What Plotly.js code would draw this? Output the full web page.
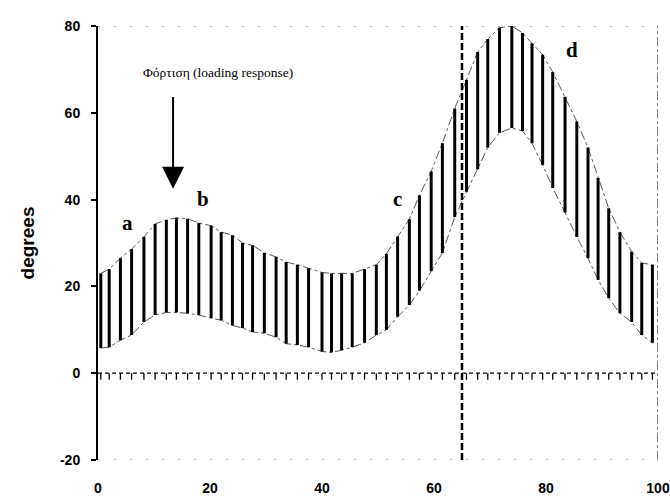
<!DOCTYPE html>
<html>
<head>
<meta charset="utf-8">
<script src="https://cdn.plot.ly/plotly-3.0.1.min.js"></script>
<style>html,body{margin:0;padding:0;background:#fff;}#chart{width:670px;height:497px;}</style>
</head>
<body>
<div id="chart"></div>
<script>
// Percent of gait cycle at each hatch line
const xs = [0.5, 2, 4, 6, 8.2, 10.2, 12.2, 14, 16, 18, 20.2, 22, 24, 25.8, 27.6, 29.7, 31.8, 33.6, 35.6, 37.6, 40, 41.7, 43.5, 45.4, 47.6, 49.7, 51.5, 53.5, 55.6, 57.4, 59.5, 61.5, 63.7, 65.8, 67.8, 69.6, 71.7, 73.9, 75.8, 77.5, 79.4, 81.2, 83.4, 85.5, 87.5, 89.3, 91.2, 93.2, 95.3, 97.1, 99];
// Upper bound of band (degrees)
const upper = [23, 24, 26.5, 28.6, 31.4, 34.4, 35.3, 35.8, 35.6, 34.6, 34, 32.5, 31.8, 30, 29.5, 27.7, 26.8, 25.6, 25, 24.2, 23.2, 23, 23, 23, 24, 25, 27.5, 31.5, 35.5, 41, 46.5, 53, 61, 67.6, 74, 77, 79.6, 80, 78.4, 76, 73.4, 69.4, 63.7, 58, 52, 45, 38, 32.5, 28, 25.4, 25];
// Lower bound of band (degrees)
const lower = [5.8, 6, 7.6, 8.8, 11.8, 13.4, 14, 14, 13.8, 13.4, 12.7, 12.2, 11, 10.4, 9.5, 9.2, 8.3, 6.8, 6.5, 6, 5, 4.8, 5.3, 6, 7, 8.8, 10, 13, 15.7, 19, 23.5, 27.7, 36, 41.8, 47, 52, 55.4, 56.5, 55.8, 53, 48, 42.7, 37, 31.4, 26.5, 21.5, 17.3, 13.8, 11.8, 8.8, 7];
// Small band hanging below zero line
const zeroTop = [0,0,0,0,0,0,0,0,0,0,0,0,0,0,0,0,0,0,0,0,0,0,0,0,0,0,0,0,0,0,0,0,0,0,0,0,0,0,0,0,0,0,0,0,0,0,0,0,0,0,0];
const zeroLow = [-1.5,-1.5,-1.5,-1.5,-1.5,-1.5,-1.5,-1.5,-1.5,-1.5,-1.5,-1.5,-1.5,-1.5,-1.5,-1.5,-1.5,-1.5,-1.5,-1.5,-1.5,-1.5,-1.5,-1.5,-1.5,-1.5,-1.5,-1.5,-1.5,-1.5,-1.5,-1.5,-1.5,-1.5,-1.5,-1.5,-1.5,-1.5,-1.5,-1.5,-1.5,-1.5,-1.5,-1.5,-1.5,-1.5,-1.5,-1.5,-1.5,-1.5,-1.5];
const xTicks = [0, 20, 40, 60, 80, 100];
const yTicks = [-20, 0, 20, 40, 60, 80];
const toeOffX = 65;
const pointLabels = ['a', 'b', 'c', 'd'];
const pointLabelX = [5.2, 18.8, 53.5, 84.6];
const pointLabelY = [34.5, 40.1, 40.2, 74.5];
const arrowText = 'Φόρτιση (loading response)';

function segments(x, lo, hi) {
  const sx = [], sy = [];
  for (let i = 0; i < x.length; i++) {
    sx.push(x[i], x[i], null);
    sy.push(lo[i], hi[i], null);
  }
  return {sx, sy};
}
const bars = segments(xs, lower, upper);
const zbars = segments(xs, zeroLow, zeroTop);

const traces = [
  {x: xs, y: upper, mode: 'lines', line: {color: '#444', width: 0.9, dash: 'dashdot'}, hoverinfo: 'skip'},
  {x: xs, y: lower, mode: 'lines', line: {color: '#444', width: 0.9, dash: 'dashdot'}, hoverinfo: 'skip'},
  {x: bars.sx, y: bars.sy, mode: 'lines', line: {color: '#000', width: 3}, hoverinfo: 'skip'},
  {x: zbars.sx, y: zbars.sy, mode: 'lines', line: {color: '#000', width: 1.3}, hoverinfo: 'skip'}
];

const annotations = pointLabels.map((t, i) => ({
  x: pointLabelX[i], y: pointLabelY[i], xref: 'x', yref: 'y', text: t, showarrow: false,
  font: {family: 'Liberation Serif, Times New Roman, serif', size: 21, color: '#000', weight: 'bold'}
}));
annotations.push({
  x: 21.5, y: 69.4, xref: 'x', yref: 'y', text: arrowText, showarrow: false,
  font: {family: 'Liberation Serif, Times New Roman, serif', size: 13.5, color: '#000'}
});
annotations.push({
  x: 13.4, y: 42.5, xref: 'x', yref: 'y', ax: 13.4, ay: 64, axref: 'x', ayref: 'y',
  text: '', showarrow: true, arrowhead: 2, arrowsize: 2.2, arrowwidth: 2, arrowcolor: '#000'
});

const layout = {
  width: 670, height: 497,
  margin: {l: 98, r: 12, t: 26, b: 37},
  paper_bgcolor: '#fff', plot_bgcolor: '#fff',
  showlegend: false,
  font: {family: 'Liberation Sans, Arial, sans-serif', color: '#000'},
  xaxis: {
    range: [0, 100], tickvals: xTicks, ticktext: xTicks.map(String),
    showgrid: false, zeroline: false, showline: false, ticks: '',
    ticklabelstandoff: 18,
    tickfont: {size: 14, weight: 'bold', family: 'Liberation Sans, Arial, sans-serif'}
  },
  yaxis: {
    range: [-20, 80], tickvals: yTicks, ticktext: yTicks.map(String),
    showgrid: false, zeroline: false, showline: true, linecolor: '#000', linewidth: 2,
    ticks: 'outside', ticklen: 5, tickwidth: 2, tickcolor: '#000',
    ticklabelstandoff: 8,
    tickfont: {size: 14, weight: 'bold', family: 'Liberation Sans, Arial, sans-serif'},
    title: {text: 'degrees', standoff: 20, font: {size: 19, weight: 'bold', family: 'Liberation Sans, Arial, sans-serif'}}
  },
  shapes: [
    {type: 'line', xref: 'x', yref: 'y', x0: toeOffX, x1: toeOffX, y0: -20, y1: 80, line: {color: '#000', width: 2.5, dash: '7px,3px'}},
    {type: 'line', xref: 'x', yref: 'y', x0: 0, x1: 100, y0: 0, y1: 0, line: {color: '#000', width: 1.3, dash: '4px,3px'}},
    {type: 'line', xref: 'x', yref: 'y', x0: 100, x1: 100, y0: -20, y1: 80, line: {color: '#333', width: 1.2, dash: 'dashdot'}},
    {type: 'line', xref: 'x', yref: 'y', x0: 0, x1: 100, y0: 80, y1: 80, line: {color: '#666', width: 1, dash: '2px,14px'}},
    {type: 'line', xref: 'x', yref: 'y', x0: 0, x1: 100, y0: -20, y1: -20, line: {color: '#666', width: 1, dash: '2px,14px'}}
  ],
  annotations: annotations
};

Plotly.newPlot('chart', traces, layout, {displayModeBar: false, staticPlot: true});
</script>
</body>
</html>
